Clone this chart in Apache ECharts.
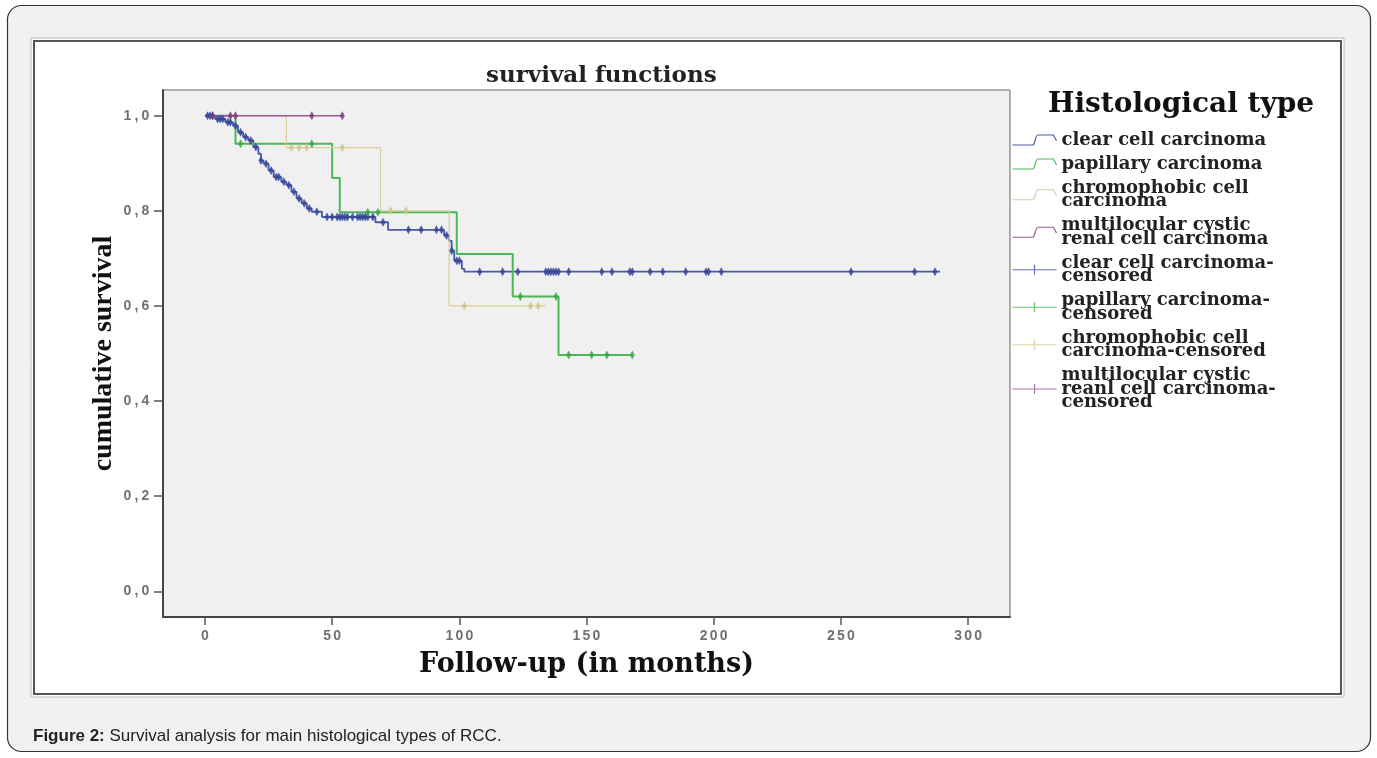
<!DOCTYPE html>
<html>
<head>
<meta charset="utf-8">
<script src="https://cdn.jsdelivr.net/npm/echarts@6/dist/echarts.min.js"></script>
<style>
html,body{margin:0;padding:0;background:#ffffff;}
#chart{width:1377px;height:758px;}
</style>
</head>
<body>
<div id="chart"></div>
<script>
// ---- data ----
// Kaplan-Meier steps: time (months) and cumulative survival after the step
const clearT = [0, 4, 8, 11, 13, 15, 17, 19, 21, 22, 23, 25, 27, 30, 32, 34, 36, 38, 40, 42, 46, 67, 72, 94, 96, 97, 98, 101, 102, 289];
const clearS = [1, 0.993, 0.986, 0.979, 0.965, 0.955, 0.948, 0.934, 0.920, 0.906, 0.899, 0.885, 0.871, 0.861, 0.854, 0.840, 0.826, 0.816, 0.805, 0.798, 0.787, 0.776, 0.760, 0.748, 0.737, 0.716, 0.695, 0.678, 0.672, 0.672];
const clearCens = [1, 2, 3, 5, 6, 7, 9, 10, 12, 14, 16, 18, 20, 22, 24, 26, 28, 29, 31, 33, 35, 37, 39, 41, 44, 48, 50, 52, 53, 54, 55, 56, 58, 60, 61, 62, 63, 64, 66, 70, 80, 85, 91, 93, 95, 97, 99, 100, 108, 117, 123, 134, 135, 136, 137, 138, 139, 143, 156, 160, 167, 168, 175, 180, 189, 197, 198, 203, 254, 279, 287];

const papT = [0, 12, 50, 53, 99, 121, 139, 168];
const papS = [1, 0.941, 0.869, 0.797, 0.709, 0.620, 0.497, 0.497];
const papCens = [14, 42, 64, 68, 124, 138, 143, 152, 158, 168];

const chrT = [0, 32, 69, 96, 134];
const chrS = [1, 0.933, 0.800, 0.600, 0.600];
const chrCens = [34, 37, 40, 54, 73, 79, 102, 128, 131];

const mlT = [0, 54];
const mlS = [1, 1];
const mlCens = [3, 10, 12, 42, 54];

const groupNames = ['clear cell carcinoma', 'papillary carcinoma', 'chromophobic cell\ncarcinoma', 'multilocular cystic\nrenal cell carcinoma'];
const censNames = ['clear cell carcinoma-\ncensored', 'papillary carcinoma-\ncensored', 'chromophobic cell\ncarcinoma-censored', 'multilocular cystic\nreanl cell carcinoma-\ncensored'];
const xTicks = [0, 50, 100, 150, 200, 250, 300];
const yTicks = [0, 0.2, 0.4, 0.6, 0.8, 1.0];

// ---- styling ----
const lineColors = ['#4a58a8', '#4cb858', '#d8cf9a', '#9a5a98'];
const markColors = ['#34449a', '#38a848', '#cfc48a', '#7e3a80'];
const lineWidths = [1.8, 2, 1.2, 1.6];

function survAt(T, S, t) {
  let v = S[0];
  for (let i = 0; i < T.length; i++) { if (T[i] <= t) v = S[i]; }
  return v;
}
function pairs(T, S) { return T.map((t, i) => [t, S[i]]); }
function censPts(T, S, C) { return C.map(t => [t, survAt(T, S, t)]); }
// spread the characters of a tick label into fixed-width rich fragments
function spread(s) {
  return s.split('').map(ch => ch === ',' ? '{c|,}' : '{d|' + ch + '}').join('');
}

const groups = [
  [clearT, clearS, clearCens],
  [papT, papS, papCens],
  [chrT, chrS, chrCens],
  [mlT, mlS, mlCens]
];

const series = [];
groups.forEach((g, i) => {
  series.push({
    name: groupNames[i], type: 'line', step: 'end', data: pairs(g[0], g[1]),
    symbol: 'none', lineStyle: { color: lineColors[i], width: lineWidths[i] },
    itemStyle: { color: lineColors[i] }, z: 2 + i, silent: true
  });
});
groups.forEach((g, i) => {
  series.push({
    name: censNames[i], type: 'scatter', data: censPts(g[0], g[1], g[2]),
    symbol: 'diamond', symbolSize: [5, 9],
    itemStyle: { color: markColors[i], opacity: 0.85 }, z: 6 + i, silent: true
  });
});

const stepIcon = 'path://M0,9 L20,9 C22,9 22,2 25,2 L40,2 L43,6';
const censIcon = 'path://M0,5 L44,5 M22,1 L22,9';
const legendData = groupNames.map((n, i) => ({
  name: n, icon: stepIcon,
  itemStyle: { color: 'none', borderColor: lineColors[i], borderWidth: 1.2 }
})).concat(censNames.map((n, i) => ({
  name: n, icon: censIcon,
  itemStyle: { color: 'none', borderColor: lineColors[i], borderWidth: 1.2 }
})));

const serif = 'DejaVu Serif';
const tickFont = { color: '#707070', fontFamily: 'Liberation Sans', fontWeight: 'bold', fontSize: 14 };
const xRich = {
  d: Object.assign({ width: 10, align: 'center' }, tickFont),
  c: Object.assign({ width: 6, align: 'center' }, tickFont)
};
const yRich = {
  d: Object.assign({ width: 11, align: 'center' }, tickFont),
  c: Object.assign({ width: 7, align: 'center' }, tickFont)
};
const chart = echarts.init(document.getElementById('chart'), null, { renderer: 'canvas' });
chart.setOption({
  animation: false,
  backgroundColor: '#ffffff',
  graphic: { elements: [
    { type: 'rect', z: -100, silent: true, shape: { x: 7.5, y: 5.5, width: 1363, height: 746, r: 14 },
      style: { fill: '#eff1f3', stroke: '#333', lineWidth: 1.2 } },
    { type: 'rect', z: -99, silent: true, shape: { x: 31, y: 38, width: 1313, height: 659 },
      style: { fill: '#ffffff', stroke: '#b8b8b8', lineWidth: 1 } },
    { type: 'rect', z: -98, silent: true, shape: { x: 34, y: 41, width: 1307, height: 653 },
      style: { fill: '#ffffff', stroke: '#555', lineWidth: 2 } },
    { type: 'text', z: 10, silent: true, left: 33, top: 728,
      style: { text: '{b|Figure 2:} Survival analysis for main histological types of RCC.',
        rich: { b: { fontWeight: 'bold', fontFamily: 'Liberation Sans', fontSize: 17, fill: '#222' } },
        fontFamily: 'Liberation Sans', fontSize: 17, fill: '#222' } }
  ]},
  title: [
    { text: 'survival functions', left: 481, top: 60,
      textStyle: { fontFamily: serif, fontWeight: 'bold', fontSize: 23, color: '#222' } },
    { text: 'Histological type', left: 1043, top: 86,
      textStyle: { fontFamily: serif, fontWeight: 'bold', fontSize: 28, color: '#111' } }
  ],
  legend: {
    orient: 'vertical', left: 1005, top: 126, itemWidth: 44, itemHeight: 10, itemGap: 6,
    selectedMode: false, symbolKeepAspect: false,
    data: legendData,
    textStyle: { fontFamily: serif, fontWeight: 'bold', fontSize: 18, lineHeight: 13.5, color: '#222' }
  },
  grid: { left: 163, right: 367, top: 90, bottom: 141, show: true, backgroundColor: '#f0f0f0',
    borderColor: '#666', borderWidth: 1 },
  xAxis: {
    type: 'value', min: -16.5, max: 316.5,
    name: 'Follow-up (in months)', nameLocation: 'middle', nameGap: 34,
    nameTextStyle: { fontFamily: serif, fontWeight: 'bold', fontSize: 27, color: '#111' },
    axisLine: { show: true, onZero: false, lineStyle: { color: '#444', width: 2 } },
    axisTick: { show: true, customValues: xTicks, length: 8, lineStyle: { color: '#555', width: 1.5 } },
    axisLabel: { customValues: xTicks, margin: 12, formatter: v => spread(String(v)), rich: xRich },
    splitLine: { show: false }
  },
  yAxis: {
    type: 'value', min: -0.054, max: 1.054,
    name: 'cumulative survival', nameLocation: 'middle', nameGap: 45, nameRotate: 90,
    nameMoveOverlap: false,
    nameTextStyle: { fontFamily: 'Liberation Serif', fontWeight: 'bold', fontSize: 28, color: '#111' },
    axisLine: { show: true, onZero: false, lineStyle: { color: '#444', width: 2 } },
    axisTick: { show: true, customValues: yTicks, length: 9, lineStyle: { color: '#555', width: 1.5 } },
    axisLabel: { customValues: yTicks, margin: 12,
      formatter: v => spread(v.toFixed(1).replace('.', ',')), rich: yRich },
    splitLine: { show: false }
  },
  series: series
});
</script>
</body>
</html>
